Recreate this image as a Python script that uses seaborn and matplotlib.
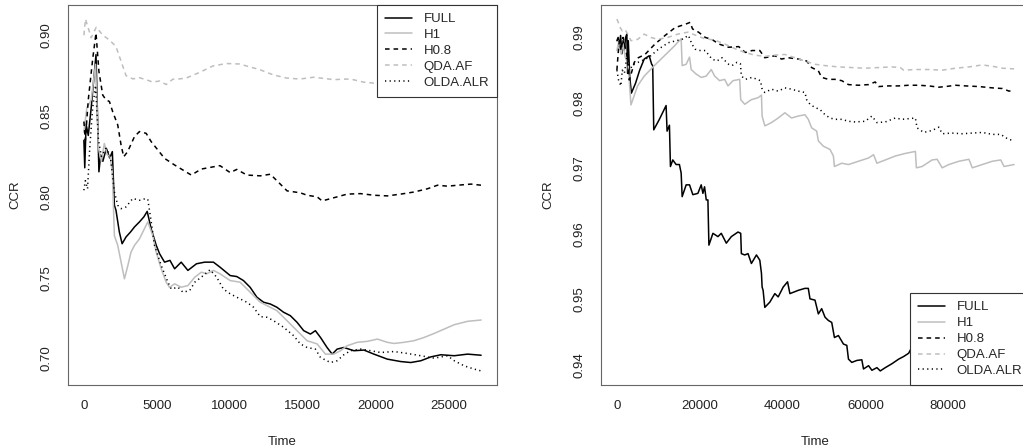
import matplotlib
matplotlib.use("Agg")
import matplotlib.pyplot as plt
import seaborn as sns

# ---- data (time, CCR) ----
methods = ["FULL", "H1", "H0.8", "QDA.AF", "OLDA.ALR"]

# left panel
full_left = [(0, 0.835), (60, 0.818), (150, 0.845), (300, 0.838), (500, 0.855), (830, 0.888),
             (1030, 0.8155), (1150, 0.826), (1300, 0.822), (1540, 0.830), (1770, 0.824), (1950, 0.828),
             (2090, 0.7948), (2200, 0.7917), (2430, 0.7783), (2620, 0.771), (2890, 0.7752), (3200, 0.7783),
             (3470, 0.7814), (3810, 0.7845), (4110, 0.7876), (4340, 0.791), (4610, 0.7803), (4960, 0.770),
             (5190, 0.7648), (5530, 0.7596), (5900, 0.7607), (6220, 0.7555), (6670, 0.7596), (7130, 0.7545),
             (7720, 0.7586), (8280, 0.7596), (8880, 0.7596), (9330, 0.7565), (10030, 0.7513), (10480, 0.7507),
             (10940, 0.7482), (11400, 0.744), (11860, 0.7379), (12320, 0.7348), (12780, 0.7337), (13230, 0.7317),
             (13690, 0.7286), (14150, 0.7265), (14610, 0.7224), (15070, 0.7172), (15530, 0.7151), (15870, 0.7172),
             (16220, 0.713), (16670, 0.7068), (17020, 0.7027), (17360, 0.7058), (17820, 0.7068), (18510, 0.7048),
             (19200, 0.7052), (19880, 0.7027), (20800, 0.6996), (21720, 0.6981), (22410, 0.6975), (23100, 0.6986),
             (23790, 0.701), (24470, 0.7023), (25390, 0.7017), (26310, 0.7027), (27230, 0.702)]
h1_left = [(0, 0.840), (200, 0.855), (500, 0.860), (800, 0.882), (1000, 0.830), (1200, 0.822), (1400, 0.833),
           (1600, 0.826), (1800, 0.825), (1950, 0.815), (2090, 0.776), (2320, 0.770), (2550, 0.7596),
           (2780, 0.7493), (3000, 0.757), (3230, 0.7658), (3470, 0.770), (3810, 0.774), (4150, 0.7803),
           (4380, 0.7845), (4720, 0.7762), (4960, 0.7658), (5300, 0.7555), (5640, 0.7472), (5870, 0.744),
           (6220, 0.7462), (6670, 0.7441), (7130, 0.7451), (7600, 0.7503), (8050, 0.7534), (8420, 0.7524),
           (8880, 0.7545), (9330, 0.7524), (10030, 0.7482), (10710, 0.7472), (11400, 0.741), (12090, 0.7348),
           (12550, 0.7327), (13230, 0.7296), (13920, 0.7234), (14610, 0.7172), (15300, 0.711), (15990, 0.709),
           (16560, 0.7027), (17130, 0.7027), (17590, 0.7048), (18050, 0.7079), (18740, 0.710), (19430, 0.7106),
           (20120, 0.712), (20800, 0.710), (21260, 0.7093), (21950, 0.710), (22630, 0.711), (23320, 0.713),
           (24010, 0.7155), (24700, 0.7182), (25390, 0.7209), (26310, 0.723), (27230, 0.7238)]
h08_left = [(0, 0.8466), (100, 0.835), (300, 0.860), (600, 0.885), (830, 0.9014), (1030, 0.8776), (1150, 0.871),
            (1290, 0.863), (1520, 0.860), (1750, 0.859), (1970, 0.8528), (2320, 0.8445), (2550, 0.832),
            (2730, 0.8248), (3000, 0.828), (3470, 0.8373), (3810, 0.8404), (4270, 0.8393), (4610, 0.8342),
            (5070, 0.829), (5530, 0.8238), (6220, 0.8197), (6790, 0.8166), (7360, 0.8135), (8050, 0.8172),
            (8880, 0.8186), (9330, 0.8193), (10030, 0.815), (10480, 0.817), (11170, 0.8135), (12090, 0.813),
            (12780, 0.814), (13230, 0.810), (13930, 0.8037), (14840, 0.8025), (15300, 0.801), (15990, 0.800),
            (16330, 0.7975), (16790, 0.7986), (17360, 0.800), (18050, 0.8017), (18970, 0.802), (19880, 0.801),
            (20800, 0.8006), (21720, 0.8017), (22630, 0.803), (23550, 0.805), (24240, 0.8072), (24930, 0.8066),
            (25620, 0.8072), (26540, 0.8079), (27230, 0.8072)]
qda_left = [(0, 0.900), (110, 0.910), (500, 0.8985), (850, 0.905), (1300, 0.900), (1760, 0.897), (2200, 0.893),
            (2660, 0.881), (2890, 0.875), (3350, 0.873), (3810, 0.8737), (4270, 0.8725), (4720, 0.871),
            (5190, 0.8717), (5640, 0.8695), (6100, 0.8728), (6560, 0.873), (7010, 0.8735), (7930, 0.877),
            (8850, 0.881), (9770, 0.8825), (10680, 0.8822), (11140, 0.881), (12060, 0.8787), (12970, 0.8755),
            (13890, 0.8735), (14810, 0.8729), (15730, 0.874), (16640, 0.8731), (17100, 0.8725), (18010, 0.8729),
            (18470, 0.8725), (19160, 0.871), (19850, 0.8704), (20800, 0.8712), (22600, 0.8706), (24500, 0.8712),
            (26300, 0.8708), (27230, 0.871)]
olda_left = [(0, 0.8041), (100, 0.810), (250, 0.805), (400, 0.830), (600, 0.855), (800, 0.869), (1000, 0.835),
             (1200, 0.825), (1500, 0.830), (1800, 0.826), (2090, 0.8031), (2320, 0.7948), (2550, 0.7927),
             (2890, 0.7938), (3350, 0.799), (3810, 0.7979), (4270, 0.799), (4380, 0.7985), (4610, 0.785),
             (4840, 0.770), (5300, 0.7576), (5760, 0.7472), (5990, 0.743), (6450, 0.7441), (6790, 0.741),
             (7250, 0.742), (7600, 0.7472), (8050, 0.7503), (8650, 0.7549), (9100, 0.7503), (9560, 0.743),
             (10030, 0.740), (10480, 0.7379), (11170, 0.7348), (11630, 0.7317), (12090, 0.7259), (12550, 0.7255),
             (13000, 0.7234), (13690, 0.7193), (14380, 0.7141), (14840, 0.709), (15300, 0.7068), (15870, 0.7058),
             (16220, 0.7006), (16900, 0.6975), (17360, 0.6986), (17820, 0.7023), (18280, 0.7048), (18970, 0.7058),
             (19660, 0.7048), (20340, 0.7037), (21260, 0.7043), (22180, 0.7031), (23100, 0.7017), (24010, 0.7002),
             (24930, 0.7017), (25390, 0.6986), (26080, 0.6954), (26770, 0.6934), (27230, 0.6923)]

# right panel
full_right = [(0, 0.9895), (300, 0.9900), (600, 0.9885), (900, 0.9903), (1200, 0.9875), (1500, 0.9895),
              (1800, 0.9880), (2100, 0.9900), (2400, 0.9905), (2600, 0.9845), (2750, 0.9895), (3100, 0.9840),
              (3500, 0.9815), (4500, 0.9830), (5500, 0.9850), (6600, 0.9867), (7800, 0.9872), (8400, 0.9859),
              (8650, 0.9857), (8900, 0.9759), (10260, 0.9775), (11880, 0.9796), (12120, 0.9757), (12690, 0.9766),
              (12930, 0.9703), (13500, 0.9713), (14300, 0.9706), (15100, 0.9706), (15520, 0.9693), (15760, 0.9657),
              (16730, 0.9675), (17540, 0.9675), (18340, 0.9660), (19560, 0.9662), (20360, 0.9675), (20770, 0.9662),
              (21170, 0.9672), (21580, 0.9652), (21980, 0.9652), (22220, 0.9583), (23190, 0.9601), (24400, 0.9596),
              (25210, 0.9601), (26420, 0.9586), (27640, 0.9596), (29250, 0.9603), (29900, 0.9601), (30060, 0.9570),
              (30870, 0.9568), (31670, 0.9570), (32480, 0.9555), (33700, 0.9568), (34510, 0.9560), (34910, 0.9540),
              (35070, 0.9519), (35310, 0.9514), (35720, 0.9488), (36930, 0.9496), (38140, 0.9509), (38950, 0.9504),
              (40160, 0.9519), (41210, 0.9527), (41780, 0.9509), (42590, 0.9511), (43800, 0.9514), (45410, 0.9517),
              (46220, 0.9517), (46630, 0.9501), (47840, 0.9499), (48650, 0.9478), (49450, 0.9486), (50260, 0.9473),
              (51070, 0.9468), (51880, 0.9465), (52530, 0.9442), (53490, 0.9445), (54710, 0.9432), (55520, 0.9430),
              (55920, 0.9409), (56730, 0.9404), (57940, 0.9407), (59150, 0.9408), (59550, 0.9394), (60770, 0.9399),
              (61580, 0.9392), (62790, 0.9396), (63600, 0.9391), (64810, 0.9396), (66420, 0.9402), (68040, 0.9409),
              (69250, 0.9413), (70460, 0.9418), (71030, 0.9425), (74000, 0.9432), (78000, 0.9440), (84000, 0.9445),
              (90000, 0.9452), (95920, 0.9458)]
h1_right = [(0, 0.9880), (500, 0.9895), (1000, 0.9875), (1500, 0.9890), (2000, 0.9870), (2700, 0.9860),
            (3400, 0.9797), (5000, 0.9826), (6600, 0.9841), (9050, 0.9857), (11470, 0.9872), (13900, 0.9887),
            (15520, 0.9898), (15760, 0.9857), (16730, 0.9859), (17540, 0.9870), (17940, 0.9851), (19150, 0.9844),
            (20360, 0.9839), (21570, 0.9841), (22790, 0.9851), (23600, 0.9841), (24810, 0.9834), (26020, 0.9836),
            (26830, 0.9826), (28040, 0.9834), (29660, 0.9836), (29900, 0.9805), (30870, 0.9798), (32480, 0.9805),
            (34100, 0.9808), (34910, 0.9812), (35070, 0.9780), (35720, 0.9765), (37330, 0.9770), (38950, 0.9777),
            (40570, 0.9785), (42180, 0.9777), (43800, 0.9780), (45410, 0.9782), (46220, 0.9775), (47030, 0.9762),
            (48240, 0.9757), (48650, 0.9742), (49860, 0.9734), (51470, 0.9729), (52280, 0.9719), (52530, 0.9703),
            (54300, 0.9708), (55920, 0.9706), (58340, 0.9711), (60770, 0.9716), (61980, 0.9721), (62790, 0.9708),
            (64810, 0.9713), (67230, 0.9719), (69660, 0.9723), (72080, 0.9726), (72320, 0.9701), (73700, 0.9703),
            (76120, 0.9713), (77330, 0.9714), (78550, 0.9701), (80160, 0.9706), (82590, 0.9711), (85010, 0.9714),
            (85820, 0.9701), (88240, 0.9706), (90670, 0.9711), (92690, 0.9713), (93490, 0.9703), (95920, 0.9706)]
h08_right = [(0, 0.9850), (300, 0.9875), (600, 0.9895), (1000, 0.9880), (1500, 0.9900), (2000, 0.9885),
             (2500, 0.9870), (3000, 0.9835), (3700, 0.9850), (4200, 0.9862), (5170, 0.9869), (6790, 0.9874),
             (9210, 0.9890), (11640, 0.9903), (14060, 0.9915), (16480, 0.9920), (17700, 0.9923), (18260, 0.9913),
             (19720, 0.9908), (21330, 0.9900), (22950, 0.9897), (24570, 0.9890), (26990, 0.9885), (29410, 0.9886),
             (31030, 0.9877), (32650, 0.9880), (34510, 0.9880), (35720, 0.9869), (38140, 0.9872), (39760, 0.9867),
             (41370, 0.9869), (43800, 0.9867), (45820, 0.9864), (47030, 0.9854), (48650, 0.9849), (49450, 0.9839),
             (51070, 0.9836), (52690, 0.9836), (54300, 0.9834), (55920, 0.9828), (58340, 0.9827), (60770, 0.9828),
             (62380, 0.9832), (63190, 0.9825), (65620, 0.9826), (68040, 0.9826), (70460, 0.9827), (72890, 0.9827),
             (75310, 0.9826), (77740, 0.9824), (79350, 0.9825), (81780, 0.9827), (84200, 0.9826), (87430, 0.9825),
             (90670, 0.9823), (93090, 0.9822), (94710, 0.9818), (95920, 0.9820)]
qda_right = [(0, 0.9928), (400, 0.9922), (800, 0.9915), (1300, 0.9910), (2000, 0.9912), (2600, 0.9905),
             (3400, 0.9895), (5000, 0.9897), (6600, 0.9905), (8200, 0.9900), (9860, 0.9897), (12280, 0.9900),
             (14700, 0.9905), (17130, 0.9908), (19150, 0.9903), (21170, 0.9898), (23600, 0.9896), (26020, 0.9890),
             (28440, 0.9883), (30870, 0.9877), (33290, 0.9873), (35720, 0.9871), (38140, 0.9873), (40570, 0.9874),
             (42990, 0.9869), (45410, 0.9864), (47840, 0.9859), (50260, 0.9857), (53490, 0.9855), (56730, 0.9854),
             (59960, 0.9853), (63190, 0.9854), (66420, 0.9855), (68440, 0.9854), (69250, 0.9850), (72080, 0.9851),
             (75310, 0.9851), (78550, 0.9850), (81780, 0.9853), (85010, 0.9855), (88240, 0.9858), (90670, 0.9856),
             (93090, 0.9853), (95920, 0.9852)]
olda_right = [(0, 0.9850), (400, 0.9835), (970, 0.9826), (1300, 0.9850), (1800, 0.9845), (2400, 0.9870),
              (3000, 0.9850), (3960, 0.9859), (5500, 0.9863), (7600, 0.9869), (10020, 0.9882), (12440, 0.9892),
              (15680, 0.9897), (17290, 0.9903), (18100, 0.9890), (18910, 0.9882), (20120, 0.9880), (21330, 0.9880),
              (22950, 0.9867), (24160, 0.9864), (25370, 0.9869), (26990, 0.9859), (27800, 0.9857), (29010, 0.9862),
              (29820, 0.9860), (30060, 0.9841), (31030, 0.9836), (32650, 0.9839), (34670, 0.9834), (35070, 0.9821),
              (35720, 0.9816), (37330, 0.9821), (38950, 0.9818), (40570, 0.9823), (42180, 0.9821), (43800, 0.9818),
              (45410, 0.9816), (45820, 0.9805), (46630, 0.9798), (47840, 0.9793), (49050, 0.9790), (50260, 0.9782),
              (51470, 0.9777), (52690, 0.9775), (54300, 0.9775), (55920, 0.9772), (57540, 0.9771), (59960, 0.9772),
              (61580, 0.9780), (62790, 0.9770), (64810, 0.9771), (67230, 0.9777), (68850, 0.9775), (70460, 0.9776),
              (72080, 0.9777), (72480, 0.9762), (74100, 0.9755), (76120, 0.9758), (77740, 0.9763), (78550, 0.9753),
              (80970, 0.9754), (83390, 0.9753), (85820, 0.9754), (88240, 0.9755), (90670, 0.9752), (92690, 0.9752),
              (93900, 0.9747), (94710, 0.9744), (95920, 0.9743)]

left_series = [full_left, h1_left, h08_left, qda_left, olda_left]
right_series = [full_right, h1_right, h08_right, qda_right, olda_right]

left_xticks = [0, 5000, 10000, 15000, 20000, 25000]
left_yticks = [0.70, 0.75, 0.80, 0.85, 0.90]
right_xticks = [0, 20000, 40000, 60000, 80000]
right_yticks = [0.94, 0.95, 0.96, 0.97, 0.98, 0.99]

# ---- styles (R-like: black / gray, solid / dashed / dotted) ----
GREY = "#bebebe"
styles = {
    "FULL": dict(color="black", linestyle="-"),
    "H1": dict(color=GREY, linestyle="-"),
    "H0.8": dict(color="black", linestyle=(0, (3.0, 2.6))),
    "QDA.AF": dict(color=GREY, linestyle=(0, (3.0, 2.6))),
    "OLDA.ALR": dict(color="black", linestyle=(0, (0.8, 2.2))),
}

sns.set_style("white")
plt.rcParams["font.family"] = ["Liberation Sans", "DejaVu Sans"]

fig = plt.figure(figsize=(10.23, 4.47), dpi=100)
ax_l = fig.add_axes([68 / 1023, 62 / 447, 429 / 1023, 380 / 447])
ax_r = fig.add_axes([601 / 1023, 62 / 447, 429 / 1023, 380 / 447])


def draw_panel(ax, series, xticks, yticks, yfmt, legend_loc):
    for name, pts in zip(methods, series):
        t = [p[0] for p in pts]
        v = [p[1] for p in pts]
        sns.lineplot(x=t, y=v, ax=ax, label=name, estimator=None, errorbar=None,
                     linewidth=1.1, **styles[name])
    ax.margins(x=0.04, y=0.04)
    ax.set_xticks(xticks)
    ax.set_xticklabels([str(x) for x in xticks])
    ax.set_yticks(yticks)
    ax.set_yticklabels([yfmt.format(y) for y in yticks])
    ax.tick_params(axis="both", labelsize=9.5, length=5, width=0.8, color="#333333",
                   labelcolor="#222222", direction="out", pad=6)
    ax.tick_params(axis="y", labelrotation=90)
    for lbl in ax.get_yticklabels():
        lbl.set_va("center")
    for sp in ax.spines.values():
        sp.set_color("#666666")
        sp.set_linewidth(0.8)
    ax.set_xlabel("Time", fontsize=9.5, color="#222222")
    ax.set_ylabel("CCR", fontsize=9.5, color="#222222")
    ax.xaxis.set_label_coords(0.5, -0.133)
    ax.yaxis.set_label_coords(-0.108, 0.5)
    leg = ax.legend(loc=legend_loc, fontsize=9.5, frameon=True, fancybox=False, framealpha=1,
                    edgecolor="#333333", borderaxespad=0, borderpad=0.6, labelspacing=0.28,
                    handlelength=2.1, handletextpad=0.85)
    leg.get_frame().set_linewidth(0.8)


draw_panel(ax_l, left_series, left_xticks, left_yticks, "{:.2f}", "upper right")
draw_panel(ax_r, right_series, right_xticks, right_yticks, "{:.2f}", "lower right")

fig.savefig("out.png", dpi=100)
